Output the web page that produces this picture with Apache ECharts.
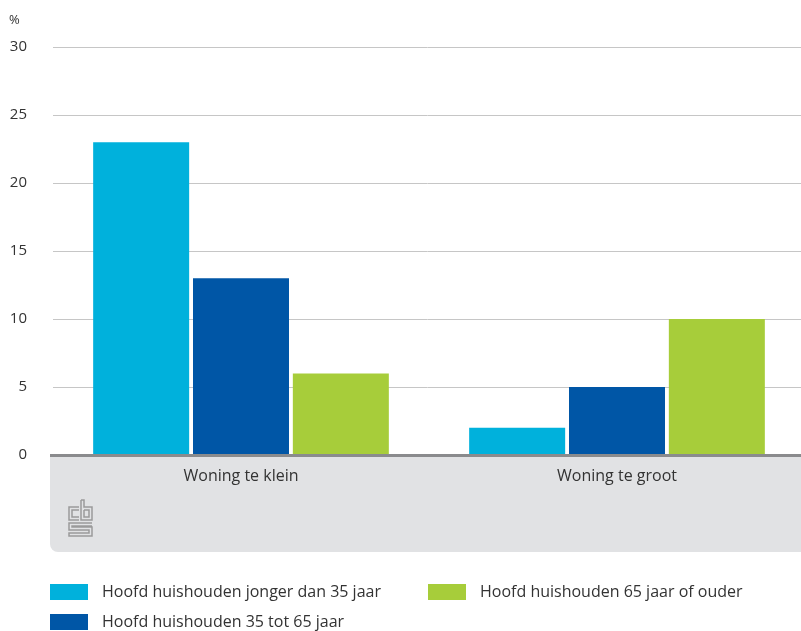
<!DOCTYPE html>
<html>
<head>
<meta charset="utf-8">
<script src="https://cdn.jsdelivr.net/npm/echarts@6/dist/echarts.min.js"></script>
<style>
  html, body { margin: 0; padding: 0; background: #fff; }
  #chart { width: 801px; height: 631px; }
</style>
</head>
<body>
<div id="chart"></div>
<script>
const categories = ['Woning te klein', 'Woning te groot']
const seriesNames = [
  'Hoofd huishouden jonger dan 35 jaar',
  'Hoofd huishouden 35 tot 65 jaar',
  'Hoofd huishouden 65 jaar of ouder'
]
const jonger35 = [23, 2]
const tussen35en65 = [13, 5]
const ouder65 = [6, 10]
const colors = ['#00b1dc', '#0056a6', '#a7cd3a']

const font = 'Open Sans'

// cbs logo, rough outline
const grey = '#9a9a9a'
const logoLines = [
  [[79, 507], [69, 507], [69, 520], [79, 520]],
  [[79, 510], [72, 510], [72, 517], [79, 517]],
  [[81, 500], [81, 520], [92, 520], [92, 507], [84, 507], [84, 500], [81, 500]],
  [[84, 510], [89, 510], [89, 517], [84, 517], [84, 510]],
  [[92, 523], [69, 523], [69, 530], [89, 530], [89, 533], [69, 533], [69, 536], [92, 536], [92, 527], [72, 527], [72, 526], [92, 526]]
]

const legendText = { fontSize: 16, color: '#333', fontFamily: font, padding: [0, 0, 0, 9] }

const chart = echarts.init(document.getElementById('chart'))
const options = {
  animation: false,
  color: colors,
  textStyle: { fontFamily: font },
  grid: { left: 53, width: 752, top: 47, height: 408, outerBoundsMode: 'none' },
  legend: [
    {
      data: [seriesNames[0]], left: 50, top: 584, padding: 0, itemWidth: 38, itemHeight: 16,
      icon: 'rect', textStyle: legendText
    },
    {
      data: [seriesNames[2]], left: 428, top: 584, padding: 0, itemWidth: 38, itemHeight: 16,
      icon: 'rect', textStyle: legendText
    },
    {
      data: [seriesNames[1]], left: 50, top: 614, padding: 0, itemWidth: 38, itemHeight: 16,
      icon: 'rect', textStyle: legendText
    }
  ],
  xAxis: {
    type: 'category',
    data: categories,
    axisLine: { show: false },
    axisTick: { show: false },
    axisLabel: { fontSize: 16, color: '#333', margin: 13, fontFamily: font }
  },
  yAxis: {
    type: 'value',
    min: 0,
    max: 30,
    interval: 5,
    name: '%',
    nameLocation: 'end',
    nameGap: 20,
    nameTextStyle: { fontSize: 13, color: '#333', align: 'left', padding: [0, 0, 0, -44] },
    axisLine: { show: false },
    axisTick: { show: false },
    axisLabel: { fontSize: 15, color: '#333', margin: 26 },
    splitLine: { lineStyle: { color: '#c6c6c6', width: 1 } }
  },
  graphic: [
    {
      type: 'rect', z: -10, silent: true,
      shape: { x: 50, y: 455, width: 760, height: 97, r: [0, 0, 0, 8] },
      style: { fill: '#e1e2e4' }
    },
    {
      type: 'rect', z: 100, silent: true,
      shape: { x: 50, y: 454, width: 760, height: 3 },
      style: { fill: '#8a8b8d' }
    }
  ].concat(logoLines.map(pts => ({
    type: 'polyline', silent: true,
    shape: { points: pts },
    style: { stroke: grey, lineWidth: 1.5, fill: null }
  }))),
  series: [
    { name: seriesNames[0], type: 'bar', data: jonger35, barWidth: 96, barGap: '4%' },
    { name: seriesNames[1], type: 'bar', data: tussen35en65, barWidth: 96, barGap: '4%' },
    { name: seriesNames[2], type: 'bar', data: ouder65, barWidth: 96, barGap: '4%' }
  ]
}
chart.setOption(options)
window.addEventListener('resize', function () {
  chart && chart.resize()
})
</script>
</body>
</html>
